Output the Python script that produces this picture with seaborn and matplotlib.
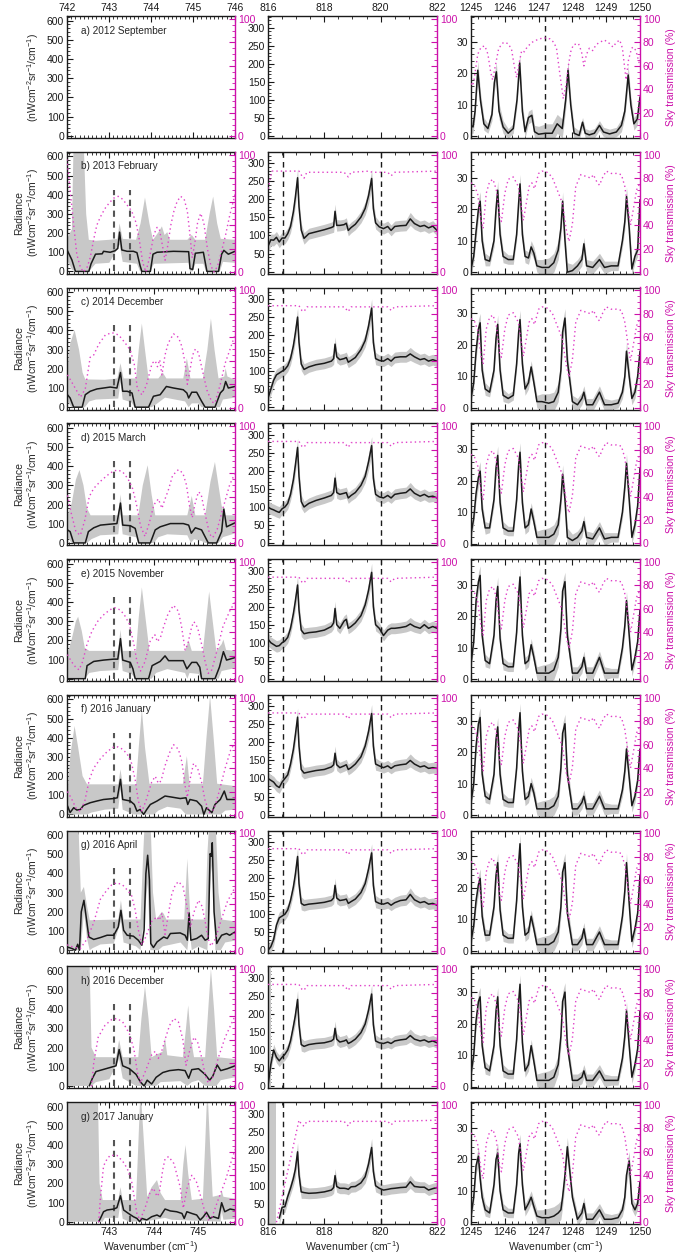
import numpy as np
import matplotlib
matplotlib.use("Agg")
import matplotlib.pyplot as plt
import seaborn as sns
from matplotlib.ticker import MultipleLocator, FuncFormatter

sns.set_theme(style="ticks")
plt.rcParams["font.family"] = ["Liberation Sans", "DejaVu Sans"]
plt.rcParams["mathtext.fontset"] = "custom"
plt.rcParams["mathtext.rm"] = "Liberation Sans"
plt.rcParams["mathtext.it"] = "Liberation Sans"

# ---------------- labels ----------------
ROW_LABELS = ["a) 2012 September", "b) 2013 February", "c) 2014 December", "d) 2015 March",
              "e) 2015 November", "f) 2016 January", "g) 2016 April", "h) 2016 December",
              "g) 2017 January"]
DASH_C1 = [743.1, 743.47]
DASH_C2 = [816.52, 820.0]
DASH_C3 = [1247.19]

# ---------------- column 1 (742-746 cm-1) : mean, upper band, lower band, transmission ----
C1B_MEAN = [(742.05,113),(742.16,60),(742.24,0),(742.54,0),(742.59,40),(742.69,90),(742.84,92),(742.87,105),(743.02,100),(743.13,108),(743.19,120),(743.23,205),(743.28,112),(743.4,105),(743.54,105),(743.62,98),(743.69,30),(743.73,0),(743.92,0),(743.98,90),(744.07,100),(744.44,105),(744.78,103),(744.81,15),(744.87,10),(744.93,95),(745.11,100),(745.15,50),(745.19,0),(745.45,0),(745.52,90),(745.57,110),(745.67,90),(745.82,105)]
C1B_HI = [(742.05,170),(742.16,220),(742.2,700),(742.42,700),(742.48,300),(742.54,165),(742.7,160),(743.0,165),(743.18,170),(743.23,250),(743.3,170),(743.6,165),(743.7,250),(743.8,385),(743.9,250),(743.98,165),(744.12,210),(744.18,235),(744.24,190),(744.3,205),(744.36,165),(744.75,165),(744.85,190),(744.93,165),(745.15,165),(745.25,300),(745.33,390),(745.42,250),(745.5,170),(745.82,165)]
C1B_LO = [(742.05,60),(742.16,10),(742.24,0),(742.54,0),(742.69,40),(743.0,45),(743.23,140),(743.3,50),(743.62,40),(743.69,0),(743.92,0),(744.0,40),(744.78,45),(744.81,0),(744.87,0),(744.93,40),(745.11,40),(745.17,0),(745.48,0),(745.55,50),(745.82,45)]
C1B_TR = [(742.05,96),(742.12,70),(742.2,40),(742.27,15),(742.35,4),(742.42,0),(742.5,4),(742.57,12),(742.65,28),(742.72,40),(742.8,47),(742.9,54),(743.0,59),(743.1,63),(743.2,64.5),(743.3,62),(743.4,57),(743.5,52),(743.6,42),(743.67,28),(743.75,8),(743.82,0),(743.9,12),(744.0,32),(744.07,38),(744.12,37),(744.18,25),(744.25,10),(744.3,20),(744.38,40),(744.45,52),(744.52,60),(744.6,64.5),(744.68,62),(744.75,52),(744.8,35),(744.86,12),(744.92,25),(744.98,42),(745.05,50),(745.12,42),(745.2,20),(745.28,5),(745.35,0),(745.43,5),(745.5,15),(745.6,30),(745.7,48),(745.82,66)]

C1C_MEAN = [(742.06,65),(742.12,48),(742.2,0),(742.39,0),(742.46,65),(742.57,83),(742.72,95),(742.87,100),(743.02,105),(743.17,100),(743.25,181),(743.3,83),(743.4,83),(743.51,74),(743.58,0),(743.88,0),(743.99,57),(744.14,65),(744.28,108),(744.44,100),(744.66,91),(744.74,74),(744.78,48),(744.85,78),(744.96,78),(745.07,31),(745.15,0),(745.37,0),(745.49,74),(745.56,91),(745.61,134),(745.67,100),(745.82,108)]
C1C_HI = [(742.06,200),(742.12,330),(742.22,402),(742.32,300),(742.4,180),(742.46,145),(742.9,143),(743.18,150),(743.25,229),(743.32,150),(743.6,150),(743.66,300),(743.73,436),(743.8,300),(743.88,150),(744.1,150),(744.2,180),(744.28,150),(744.66,150),(744.74,255),(744.82,150),(745.1,150),(745.2,300),(745.28,462),(745.36,300),(745.45,150),(745.58,160),(745.61,203),(745.65,160),(745.82,143)]
C1C_LO = [(742.06,30),(742.15,0),(742.45,0),(742.55,30),(742.7,40),(743.2,45),(743.25,130),(743.3,40),(743.5,25),(743.56,0),(743.95,0),(744.05,15),(744.25,50),(744.7,30),(744.78,0),(744.85,20),(745.0,20),(745.07,0),(745.48,0),(745.55,40),(745.82,50)]
C1C_TR = [(742.06,28),(742.2,19),(742.35,9),(742.46,16),(742.57,43),(742.65,45),(742.76,54),(742.91,62),(743.06,64),(743.21,62),(743.36,55),(743.47,49),(743.56,37),(743.63,16),(743.73,11),(743.83,19),(743.96,38),(744.03,40),(744.08,35),(744.13,41),(744.18,28),(744.25,45),(744.32,55),(744.44,63),(744.55,60),(744.63,52),(744.7,38),(744.75,20),(744.8,30),(744.87,45),(744.93,50),(745.0,47),(745.07,35),(745.19,15),(745.3,5),(745.37,4),(745.49,20),(745.6,38),(745.71,50),(745.82,62)]

C1D_MEAN = [(742.06,68),(742.12,59),(742.2,0),(742.46,0),(742.53,59),(742.65,79),(742.8,93),(743.02,98),(743.17,101),(743.25,208),(743.3,93),(743.47,90),(743.58,76),(743.66,0),(743.92,0),(744.03,68),(744.14,84),(744.37,101),(744.66,101),(744.78,93),(744.84,51),(744.93,79),(745.07,68),(745.22,0),(745.41,0),(745.52,59),(745.57,177),(745.63,84),(745.82,105)]
C1D_HI = [(742.06,144),(742.15,200),(742.25,330),(742.33,380),(742.42,300),(742.5,180),(742.58,144),(743.2,144),(743.25,253),(743.3,144),(743.65,144),(743.75,300),(743.86,405),(743.95,250),(744.03,144),(744.75,144),(744.85,245),(744.93,144),(745.15,144),(745.27,320),(745.37,422),(745.45,300),(745.52,194),(745.6,144),(745.82,144)]
C1D_LO = [(742.06,30),(742.15,0),(742.5,0),(742.6,20),(742.8,40),(743.2,45),(743.25,150),(743.3,45),(743.6,30),(743.66,0),(744.0,0),(744.1,30),(744.3,45),(744.75,40),(744.83,0),(744.9,20),(745.07,10),(745.15,0),(745.45,0),(745.55,30),(745.82,50)]
C1D_TR = [(742.06,41),(742.15,25),(742.25,10),(742.35,7),(742.45,20),(742.55,40),(742.65,47),(742.8,53),(742.95,58),(743.1,62),(743.2,62.5),(743.3,61),(743.42,55),(743.52,47),(743.6,35),(743.7,15),(743.8,6),(743.9,18),(744.0,33),(744.1,38),(744.18,30),(744.25,38),(744.32,45),(744.42,58),(744.55,63),(744.65,60),(744.73,50),(744.8,32),(744.86,22),(744.93,35),(745.0,44),(745.06,42),(745.15,25),(745.25,8),(745.32,5),(745.42,12),(745.55,30),(745.7,50),(745.82,60)]

C1E_MEAN = [(742.06,0),(742.46,0),(742.5,68),(742.65,90),(742.87,97),(743.1,102),(743.19,102),(743.25,209),(743.3,97),(743.47,85),(743.53,51),(743.58,0),(743.88,0),(743.96,68),(744.14,90),(744.25,119),(744.33,94),(744.66,94),(744.74,51),(744.85,85),(744.96,85),(745.03,60),(745.07,0),(745.37,0),(745.47,60),(745.56,141),(745.63,97),(745.82,110)]
C1E_HI = [(742.06,128),(742.15,200),(742.25,300),(742.3,323),(742.38,250),(742.45,160),(742.55,145),(743.2,145),(743.25,255),(743.3,145),(743.6,145),(743.66,320),(743.73,476),(743.82,300),(743.9,145),(744.7,145),(744.78,200),(744.85,145),(745.1,145),(745.18,320),(745.24,454),(745.32,300),(745.4,145),(745.52,180),(745.56,204),(745.62,150),(745.82,145)]
C1E_LO = [(742.06,0),(742.45,0),(742.55,30),(742.8,40),(743.2,45),(743.25,150),(743.3,40),(743.5,25),(743.58,0),(743.95,0),(744.05,30),(744.3,50),(744.7,30),(744.75,0),(744.8,30),(745.0,25),(745.07,0),(745.45,0),(745.52,40),(745.82,55)]
C1E_TR = [(742.06,21),(742.15,15),(742.25,10),(742.32,8),(742.4,15),(742.5,30),(742.61,41),(742.75,50),(742.9,56),(743.05,60),(743.12,61),(743.25,59),(743.35,54),(743.45,47),(743.55,30),(743.62,15),(743.7,7),(743.8,15),(743.92,33),(744.02,38),(744.08,32),(744.15,36),(744.22,45),(744.32,56),(744.44,63),(744.55,58),(744.62,45),(744.7,25),(744.76,30),(744.85,45),(744.9,49),(744.98,44),(745.07,30),(745.15,15),(745.22,5),(745.3,8),(745.42,25),(745.55,45),(745.7,58),(745.82,66)]

C1F_MEAN = [(742.06,45),(742.12,10),(742.2,35),(742.27,23),(742.35,26),(742.42,47),(742.57,61),(742.72,70),(742.87,78),(743.1,83),(743.18,87),(743.25,183),(743.3,78),(743.47,70),(743.56,52),(743.62,17),(743.69,26),(743.77,0),(743.84,26),(743.92,52),(744.07,70),(744.25,96),(744.36,92),(744.59,83),(744.72,87),(744.76,52),(744.81,78),(744.96,70),(745.07,43),(745.12,0),(745.18,35),(745.3,9),(745.37,52),(745.49,78),(745.58,122),(745.64,78),(745.82,78)]
C1F_HI = [(742.06,113),(742.12,300),(742.22,461),(742.3,350),(742.4,200),(742.5,157),(743.2,157),(743.25,235),(743.3,157),(743.6,157),(743.66,350),(743.73,548),(743.8,350),(743.9,160),(744.65,160),(744.74,304),(744.8,160),(745.1,160),(745.18,400),(745.26,617),(745.34,400),(745.42,160),(745.82,148)]
C1F_LO = [(742.06,0),(742.5,0),(742.6,10),(742.9,25),(743.2,30),(743.25,130),(743.3,25),(743.55,0),(744.0,0),(744.1,20),(744.3,40),(744.6,30),(744.72,0),(745.5,0),(745.6,20),(745.82,25)]
C1F_TR = [(742.06,20),(742.15,14),(742.25,6),(742.35,3),(742.45,12),(742.55,30),(742.65,40),(742.8,48),(742.95,54),(743.1,58),(743.2,58),(743.3,56),(743.4,52),(743.5,44),(743.58,30),(743.65,12),(743.73,3),(743.82,12),(743.95,28),(744.03,33),(744.1,27),(744.16,29),(744.25,42),(744.35,53),(744.44,60),(744.55,56),(744.63,45),(744.7,25),(744.75,15),(744.82,32),(744.89,44),(744.98,40),(745.07,28),(745.15,12),(745.25,2),(745.35,5),(745.45,18),(745.6,40),(745.72,55),(745.82,62)]

C1G_MEAN = [(742.05,17),(742.16,9),(742.24,0),(742.29,31),(742.33,0),(742.37,200),(742.43,260),(742.49,156),(742.54,69),(742.65,56),(742.8,66),(742.95,78),(743.1,78),(743.2,121),(743.26,208),(743.32,104),(743.4,78),(743.54,73),(743.65,52),(743.73,26),(743.78,104),(743.82,399),(743.86,495),(743.9,365),(743.93,35),(743.99,14),(744.07,43),(744.22,69),(744.3,61),(744.37,87),(744.59,90),(744.7,78),(744.75,52),(744.79,194),(744.83,52),(744.96,61),(745.07,78),(745.15,52),(745.22,60),(745.26,503),(745.29,490),(745.31,560),(745.35,200),(745.41,35),(745.45,52),(745.52,78),(745.63,87),(745.7,78),(745.82,95)]
C1G_HI = [(742.05,700),(742.3,700),(742.36,300),(742.43,330),(742.5,230),(742.56,156),(743.2,160),(743.26,260),(743.32,160),(743.7,160),(743.76,500),(743.8,700),(743.92,700),(743.98,300),(744.05,160),(744.18,200),(744.22,190),(744.28,160),(744.68,160),(744.75,477),(744.82,160),(745.15,160),(745.2,500),(745.25,700),(745.38,700),(745.45,300),(745.52,160),(745.82,150)]
C1G_LO = [(742.05,0),(742.36,0),(742.43,200),(742.5,60),(742.56,0),(742.62,10),(742.8,30),(743.1,35),(743.26,150),(743.32,40),(743.6,20),(743.7,0),(743.82,250),(743.86,350),(743.92,0),(744.1,0),(744.2,20),(744.6,40),(744.75,0),(744.8,100),(744.85,0),(745.0,20),(745.2,0),(745.28,400),(745.31,450),(745.38,0),(745.5,0),(745.6,40),(745.82,50)]
C1G_TR = [(742.05,5),(742.2,3),(742.35,2),(742.5,10),(742.65,24),(742.8,44),(742.95,52),(743.05,56),(743.17,58),(743.3,56),(743.42,51),(743.5,47),(743.58,35),(743.65,18),(743.73,5),(743.82,12),(743.95,25),(744.07,29),(744.12,26),(744.18,32),(744.25,14),(744.32,30),(744.4,48),(744.48,56),(744.55,59),(744.65,55),(744.73,40),(744.82,20),(744.9,33),(745.0,43),(745.08,38),(745.15,25),(745.22,10),(745.28,4),(745.38,10),(745.5,25),(745.65,42),(745.82,54)]

C1H_MEAN = [(742.55,0),(742.62,40),(742.7,75),(742.85,85),(743.0,95),(743.15,105),(743.22,190),(743.3,105),(743.45,90),(743.6,60),(743.7,20),(743.78,0),(743.85,30),(743.95,10),(744.05,45),(744.2,70),(744.35,80),(744.55,85),(744.7,80),(744.78,40),(744.85,85),(745.0,90),(745.15,60),(745.25,30),(745.32,50),(745.42,110),(745.5,80),(745.65,90),(745.82,105)]
C1H_HI = [(742.05,700),(742.55,700),(742.6,200),(742.7,150),(743.15,150),(743.22,240),(743.3,150),(743.65,150),(743.72,350),(743.8,520),(743.88,350),(743.95,150),(744.2,180),(744.25,250),(744.3,160),(744.65,150),(744.72,300),(744.77,420),(744.83,250),(744.9,150),(745.15,150),(745.22,400),(745.28,610),(745.35,400),(745.42,150),(745.82,140)]
C1H_LO = [(742.05,0),(742.6,0),(742.7,20),(743.0,35),(743.22,140),(743.3,40),(743.6,0),(744.05,0),(744.15,20),(744.6,25),(744.75,0),(744.85,20),(745.0,30),(745.15,0),(745.4,0),(745.5,30),(745.82,45)]
C1H_TR = [(742.6,0),(742.65,20),(742.75,42),(742.9,52),(743.05,57),(743.17,58),(743.3,55),(743.45,45),(743.55,32),(743.63,12),(743.7,3),(743.82,14),(743.95,27),(744.03,30),(744.1,24),(744.16,28),(744.25,40),(744.35,52),(744.45,58),(744.55,55),(744.65,40),(744.72,18),(744.8,30),(744.9,42),(744.98,38),(745.07,25),(745.15,10),(745.22,3),(745.32,8),(745.45,25),(745.6,42),(745.72,52),(745.82,60)]

C1I_MEAN = [(742.76,0),(742.8,17),(742.87,52),(742.95,61),(743.1,66),(743.17,73),(743.25,135),(743.32,61),(743.43,43),(743.54,26),(743.62,17),(743.68,0),(743.73,17),(743.84,9),(743.95,26),(744.07,35),(744.14,26),(744.25,66),(744.37,56),(744.51,52),(744.63,43),(744.68,17),(744.74,52),(744.85,43),(744.96,35),(745.04,9),(745.11,26),(745.18,49),(745.26,17),(745.33,26),(745.45,17),(745.52,99),(745.59,52),(745.71,66),(745.82,61)]
C1I_HI = [(742.05,700),(742.74,700),(742.78,200),(742.85,113),(743.2,113),(743.25,180),(743.3,113),(743.6,113),(743.65,400),(743.7,700),(743.78,400),(743.85,130),(743.95,180),(744.07,217),(744.15,150),(744.25,113),(744.6,113),(744.66,300),(744.71,400),(744.77,250),(744.85,113),(745.1,120),(745.15,400),(745.2,700),(745.26,400),(745.32,130),(745.5,140),(745.52,165),(745.56,130),(745.82,120)]
C1I_LO = [(742.05,0),(742.85,0),(742.9,20),(743.2,20),(743.25,100),(743.3,15),(743.45,0),(743.9,5),(744.25,20),(744.4,10),(745.5,0),(745.52,60),(745.56,10),(745.82,15)]
C1I_TR = [(742.76,0),(742.8,21),(742.87,48),(742.95,54),(743.02,57),(743.17,57),(743.3,52),(743.4,46),(743.5,35),(743.62,7),(743.69,2),(743.8,12),(743.92,26),(743.99,29),(744.07,22),(744.12,25),(744.2,45),(744.25,54),(744.33,56),(744.45,50),(744.59,30),(744.66,12),(744.75,30),(744.85,40),(744.95,35),(745.05,22),(745.15,8),(745.22,2),(745.3,4),(745.45,20),(745.6,35),(745.72,50),(745.82,62)]

# ---------------- column 2 (816-822 cm-1) ----------------
K2 = [816.0, 816.1, 816.2, 816.3, 816.4, 816.5, 816.6, 816.7, 816.8, 816.9, 816.97, 817.05, 817.1, 817.18,
      817.28, 817.45, 817.7, 818.0, 818.25, 818.33, 818.38, 818.44, 818.55, 818.7, 818.78, 818.85, 818.95,
      819.1, 819.3, 819.45, 819.57, 819.68, 819.74, 819.82, 819.95, 820.1, 820.25, 820.37, 820.5, 820.7,
      820.9, 821.05, 821.2, 821.4, 821.55, 821.7, 821.85, 822.0]
ERR2 = [18,16,16,16,16,16,16,16,17,19,22,25,22,18,16,15,15,15,15,16,20,16,15,15,15,15,15,15,16,18,22,25,22,17,
        15,15,15,15,15,15,15,18,16,15,15,15,15,15]
C2B = [70,88,87,95,82,93,93,105,125,165,205,260,180,115,92,105,110,116,122,125,167,128,128,130,134,114,122,131,151,175,210,258,175,135,124,119,125,114,125,127,128,146,133,125,128,121,126,114]
C2C = [25,50,75,90,95,100,105,115,135,170,205,250,180,120,105,112,118,122,128,135,175,140,132,135,138,125,130,138,160,185,225,275,180,135,130,128,135,128,138,140,140,148,140,132,135,128,132,128]
C2D = [100,95,92,88,85,95,100,110,135,175,215,265,185,115,100,110,118,125,132,140,180,140,135,138,140,125,132,140,160,185,225,270,180,135,128,125,132,125,135,138,140,150,138,130,135,128,130,125]
C2E = [110,100,95,90,92,100,105,115,140,180,215,260,190,135,125,128,130,135,145,155,195,150,140,160,165,140,145,155,175,205,245,295,200,150,140,120,135,140,140,142,145,152,145,140,150,140,145,140]
C2F = [100,95,90,80,75,90,100,110,140,180,220,270,190,125,115,118,122,125,132,138,170,138,130,135,138,125,130,140,160,190,230,280,190,140,135,130,135,128,135,138,140,150,140,132,135,128,130,128]
C2G = [0,10,30,70,90,95,100,112,138,175,210,260,185,130,125,128,130,133,138,145,180,145,138,140,142,130,135,142,160,185,225,270,180,135,130,128,132,125,132,138,140,155,140,132,135,128,130,125]
C2H = [0,60,100,80,70,80,88,100,125,165,195,240,170,115,110,115,118,120,125,130,160,130,122,125,128,118,122,130,148,172,210,255,170,125,120,118,122,118,125,128,130,140,130,125,128,122,125,120]
C2I = [np.nan,np.nan,np.nan,np.nan,10,40,42,70,93,120,145,194,130,83,81,79,80,83,88,95,128,98,93,93,92,90,97,98,108,125,160,206,140,100,93,88,90,92,93,95,96,111,98,96,96,88,92,95]
C2_FULLGRAY = [None, None, None, None, None, None, (816.0, 816.05), (816.0, 816.1), (816.0, 816.3)]
C2B_TR = [(816.0,71),(816.05,76),(816.1,82),(816.15,86),(817.1,86),(817.2,82),(817.28,80),(817.38,85),(818.7,85),(818.78,83),(818.85,81),(818.95,85),(819.6,86),(819.7,85),(820.25,85),(820.37,82),(820.5,85),(822.0,86)]
C2_TR = [(816.0,87),(817.1,87),(817.2,83),(817.28,82),(817.38,86),(818.7,86),(818.85,82),(818.95,86),(820.25,86),(820.37,83),(820.5,86),(822.0,87)]

# ---------------- column 3 (1245-1250 cm-1) ----------------
K3A = [1245.0, 1245.06, 1245.12, 1245.2, 1245.28, 1245.38, 1245.5, 1245.62, 1245.69, 1245.75, 1245.83, 1245.95,
       1246.1, 1246.25, 1246.36, 1246.44, 1246.52, 1246.6, 1246.7, 1246.8, 1246.88, 1247.0, 1247.2, 1247.4,
       1247.55, 1247.7, 1247.8, 1247.87, 1247.95, 1248.05, 1248.2, 1248.3, 1248.38, 1248.5, 1248.65, 1248.8,
       1248.92, 1249.1, 1249.3, 1249.45, 1249.55, 1249.65, 1249.73, 1249.82, 1249.92, 1250.0]
C3A = [3.5,3,8,21,11.5,4,2.5,7,17,20.5,8,3,1,2.5,11.5,23.3,8,1.5,6,6.7,1.5,0.7,1,1,4,2.5,11.5,21,10,1,0.3,4.5,1,0.5,1,3.5,1.4,0.8,1.4,3.5,8,19.5,10,4,5.5,12.5]
ERR3A = [2.5,2,2,3,2.5,2,1.5,2,2.5,3,2.5,2,1.5,1.5,2,3,2.5,2,2,2,2,2.5,3,3,3,3,3,3,2.5,2,1.5,1.5,1.5,1.5,1.5,1.5,1.5,1.5,1.5,2,2,3,2.5,2,2,3]
K3 = [1245.0, 1245.08, 1245.15, 1245.22, 1245.27, 1245.33, 1245.42, 1245.55, 1245.68, 1245.74, 1245.79, 1245.86,
      1245.95, 1246.1, 1246.25, 1246.35, 1246.41, 1246.45, 1246.52, 1246.6, 1246.7, 1246.78, 1246.86, 1246.95,
      1247.1, 1247.3, 1247.45, 1247.58, 1247.66, 1247.71, 1247.78, 1247.85, 1248.0, 1248.15, 1248.28, 1248.34,
      1248.42, 1248.6, 1248.8, 1248.95, 1249.15, 1249.35, 1249.48, 1249.55, 1249.6, 1249.68, 1249.76, 1249.85,
      1249.93, 1250.0]
ERR3 = [2,2,2.5,3,3,2.5,2,1.5,2,3,3,2.5,2,1.5,1.5,2,3,3,2.5,2,2,2,2,2,2.5,3,3,3,3,3,3,3,2,2,2,2,2,2,2,2,1.5,1.5,2,2.5,3,3,2,2,2,2.5]
C3B = [1,5,13,20,22.5,10,4,3.5,10,20,26,12,5,4,4,12,22,28,12,5,4.5,8,6,2,1.5,1.5,3,7,14,22.5,10,0,0.5,2,4,9,2,1.5,4,1.5,2,2,10,16,24,14,1,5,7,23]
C3C = [3,8,18,25,27,12,6,5,12,22,26.5,12,4,3,4,14,24,28,14,6,8,13,8,2,2,1.5,2,5,12,24,28.5,15,2,1,3,5,1,1,5,1,1,1.5,5,10,18,10,3,5,10,18]
C3D = [3,8,16,21,23,11,5,5,14,24,28,13,5,4,4,14,25,29,13,5,6,11,7,2,2,2,3,6,14,22,14,2,1,2,4,7,2,1.5,5,1.5,2,2,10,18,25.5,14,2,6,12,24]
C3E = [5,12,25,31,33,14,6,5,14,25,29.5,13,5,4,4,15,27,32.5,14,5,6,11,7,2,2,2,3,7,16,28,31,14,2,2,4,7,2,2,7,2,2,2,10,17,25,14,3,7,12,22]
C3F = [4,10,22,29,31,13,6,5,13,24,28,13,5,4,4,15,27,32.5,14,5,6,10,7,2,2,2,3,6,15,26,29,13,2,2,4,6,2,2,6,2,2,2,8,14,21,12,3,6,11,21]
C3G = [3,8,16,21,23,11,5,5,14,24,28,13,5,4,4,16,28,34,14,5,6,11,7,2,2,2,3,6,14,25,28,12,2,2,4,7,2,2,6,2,2,2,11,19,28,15,3,7,12,24]
C3H = [4,10,21,27,28.5,13,6,5,13,24,28.5,13,5,4,4,15,27,32.5,14,5,7,13,8,2,2,2,3,7,16,27,30,13,2,2,3,5,2,2,5,2,2,2,9,16,24,13,3,7,12,24]
C3I = [2,8,18,21,14,8,4,3,12,20,22,10,4,3,3,12,22,25,12,4,6,8,5,2,1.5,1.5,2,3,4,8,15,24,8,1,3,6,1,1,4,1,1,1.5,4,8,15,19.5,6,4,6,13]
C3A_TR = [(1245.0,45),(1245.05,43),(1245.1,50),(1245.2,70),(1245.3,76),(1245.41,77),(1245.5,70),(1245.58,55),(1245.64,48),(1245.72,60),(1245.82,75),(1245.96,80),(1246.1,79),(1246.2,74),(1246.28,60),(1246.35,50),(1246.42,62),(1246.5,73),(1246.58,72),(1246.66,76),(1246.8,80),(1246.94,82),(1247.14,84),(1247.34,83),(1247.45,80),(1247.53,75),(1247.62,55),(1247.73,32),(1247.82,45),(1247.88,60),(1247.95,72),(1248.03,78),(1248.18,79),(1248.27,72),(1248.34,60),(1248.42,70),(1248.5,75),(1248.6,73),(1248.7,78),(1248.8,80),(1248.95,82),(1249.1,79),(1249.2,76),(1249.3,80),(1249.4,82),(1249.48,75),(1249.54,60),(1249.59,48),(1249.66,65),(1249.75,75),(1249.8,76),(1249.88,73),(1249.95,65),(1250.0,60)]
C3_TR = [(1245.0,76),(1245.1,74),(1245.2,66),(1245.3,44),(1245.36,37),(1245.45,67),(1245.55,77),(1245.65,79),(1245.75,70),(1245.85,47),(1245.9,43),(1246.0,67),(1246.1,79),(1246.25,81),(1246.4,73),(1246.55,44),(1246.62,56),(1246.72,73),(1246.8,76),(1246.88,71),(1247.0,84),(1247.1,86),(1247.25,85),(1247.4,81),(1247.55,70),(1247.7,59),(1247.82,36),(1247.9,26),(1248.0,41),(1248.1,73),(1248.25,83),(1248.45,81),(1248.55,80),(1248.62,83),(1248.72,77),(1248.8,74),(1248.9,81),(1249.0,86),(1249.15,84),(1249.3,84),(1249.45,83),(1249.55,73),(1249.65,53),(1249.72,40),(1249.8,53),(1249.9,70),(1250.0,76)]

# ---------------- assemble per-row lists ----------------
C1_MEAN = [None, C1B_MEAN, C1C_MEAN, C1D_MEAN, C1E_MEAN, C1F_MEAN, C1G_MEAN, C1H_MEAN, C1I_MEAN]
C1_HI = [None, C1B_HI, C1C_HI, C1D_HI, C1E_HI, C1F_HI, C1G_HI, C1H_HI, C1I_HI]
C1_LO = [None, C1B_LO, C1C_LO, C1D_LO, C1E_LO, C1F_LO, C1G_LO, C1H_LO, C1I_LO]
C1_TR = [None, C1B_TR, C1C_TR, C1D_TR, C1E_TR, C1F_TR, C1G_TR, C1H_TR, C1I_TR]
C2_VALS = [None, C2B, C2C, C2D, C2E, C2F, C2G, C2H, C2I]
C3_VALS = [C3A, C3B, C3C, C3D, C3E, C3F, C3G, C3H, C3I]

MAG = "#cc10aa"
DOT = "#e040c8"
GRAY = "#c8c8c8"

fig = plt.figure(figsize=(6.88, 12.57), dpi=100)
W, H = 688.0, 1257.0
COL_L = [67, 268, 471]
COL_W = [168, 169, 169]
ROW_T0, ROW_P, ROW_H = 16, 135.75, 122

XLIM = [(742.05, 745.82), (816.0, 822.0), (1245.0, 1250.0)]
YLIM = [(-12, 624), (-6, 332), (-0.5, 38.2)]
YMAJ = [100, 50, 10]
YMIN = [20, 10, 2]
XMAJ = [1, 2, 1]
XMIN = [0.1, 0.5, 0.2]
FS = 7.5


def xy(pts):
    a = np.array(pts, dtype=float)
    return a[:, 0], a[:, 1]


def draw_line(ax, x, y, **kw):
    d = {"x": x, "y": y}
    sns.lineplot(x="x", y="y", data=d, ax=ax, sort=False, estimator=None, legend=False, **kw)


def band_poly(ax, hi, lo):
    hx, hy = xy(hi)
    lx, ly = xy(lo)
    ax.fill(np.concatenate([hx, lx[::-1]]), np.concatenate([hy, ly[::-1]]), color=GRAY, lw=0, zorder=1)


for r in range(9):
    top = ROW_T0 + r * ROW_P
    for c in range(3):
        rect = [COL_L[c] / W, 1 - (top + ROW_H) / H, COL_W[c] / W, ROW_H / H]
        ax = fig.add_axes(rect)
        ax2 = ax.twinx()
        xl = XLIM[c] if not (r == 0 and c == 0) else (742.0, 746.0)
        ax.set_xlim(*xl)
        ax.set_ylim(*YLIM[c])
        ax2.set_ylim(-1.5, 102.5)

        # ---- data ----
        if c == 0 and r > 0:
            band_poly(ax, C1_HI[r], C1_LO[r])
            for xv in DASH_C1:
                ax.axvline(xv, ymin=0.02, ymax=0.69, color="#555555", lw=1.5, ls=(0, (3, 2.2)), zorder=2)
            mx, my = xy(C1_MEAN[r])
            draw_line(ax, mx, my, color="k", lw=1.1, zorder=3)
            tx, ty = xy(C1_TR[r])
            draw_line(ax2, tx, ty, color=DOT, lw=1.0, ls=(0, (1, 2.2)))
        elif c == 1 and r > 0:
            vals = np.array(C2_VALS[r], dtype=float)
            err = np.array(ERR2, dtype=float)
            kx = np.array(K2)
            ax.fill_between(kx, vals - err, vals + err, color=GRAY, lw=0, zorder=1)
            if C2_FULLGRAY[r] is not None:
                ax.axvspan(*C2_FULLGRAY[r], color=GRAY, lw=0, zorder=1)
            for xv in DASH_C2:
                ax.axvline(xv, color="k", lw=1.0, ls=(0, (4, 3)), zorder=2)
            ok = ~np.isnan(vals)
            draw_line(ax, kx[ok], vals[ok], color="k", lw=1.1, zorder=3)
            tx, ty = xy(C2B_TR if r == 1 else C2_TR)
            if r == 8:
                keep = tx >= 816.3
                tx, ty = np.concatenate([[816.3], tx[keep]]), np.concatenate([[0], ty[keep]])
            draw_line(ax2, tx, ty, color=DOT, lw=1.0, ls=(0, (1, 2.2)))
        elif c == 2:
            kx = np.array(K3A if r == 0 else K3)
            vals = np.array(C3_VALS[r], dtype=float)
            err = np.array(ERR3A if r == 0 else ERR3, dtype=float)
            ax.fill_between(kx, vals - err, vals + err, color=GRAY, lw=0, zorder=1)
            for xv in DASH_C3:
                ax.axvline(xv, color="k", lw=1.0, ls=(0, (4, 3)), zorder=2)
            draw_line(ax, kx, vals, color="k", lw=1.1, zorder=3)
            tx, ty = xy(C3A_TR if r == 0 else C3_TR)
            draw_line(ax2, tx, ty, color=DOT, lw=1.0, ls=(0, (1, 2.2)))

        # ---- axes styling ----
        ax.set_xlabel("")
        ax.set_ylabel("")
        ax2.set_ylabel("")
        for s in ["top", "bottom", "left"]:
            ax.spines[s].set_color("k")
            ax.spines[s].set_linewidth(1.0)
        ax.spines["right"].set_visible(False)
        for s in ["top", "bottom", "left"]:
            ax2.spines[s].set_visible(False)
        ax2.spines["right"].set_color(MAG)
        ax2.spines["right"].set_linewidth(1.0)

        ax.xaxis.set_major_locator(MultipleLocator(XMAJ[c]))
        ax.xaxis.set_minor_locator(MultipleLocator(XMIN[c]))
        ax.yaxis.set_major_locator(MultipleLocator(YMAJ[c]))
        ax.yaxis.set_minor_locator(MultipleLocator(YMIN[c]))
        ax.tick_params(axis="both", which="both", direction="in", top=True, bottom=True, left=True,
                       right=False, colors="k", labelsize=FS, pad=2)
        ax.tick_params(which="major", length=4, width=0.8)
        ax.tick_params(which="minor", length=2, width=0.6)
        ax.tick_params(axis="x", labelbottom=(r == 8), labeltop=(r == 0))
        ax.yaxis.set_major_formatter(FuncFormatter(lambda v, p: "%d" % round(v)))
        ax.xaxis.set_major_formatter(FuncFormatter(lambda v, p: "%d" % round(v)))

        ax2.yaxis.set_major_locator(MultipleLocator(20))
        ax2.yaxis.set_minor_locator(MultipleLocator(5))
        ax2.tick_params(axis="y", which="both", direction="in", colors=MAG, labelsize=FS, pad=2)
        ax2.tick_params(which="major", length=4, width=0.8)
        ax2.tick_params(which="minor", length=2, width=0.6)
        if c < 2:
            ax2.yaxis.set_major_formatter(FuncFormatter(lambda v, p: "%d" % round(v) if round(v) in (0, 100) else ""))
        else:
            ax2.yaxis.set_major_formatter(FuncFormatter(lambda v, p: "%d" % round(v)))
            ax2.set_ylabel("Sky transmission (%)", color=MAG, fontsize=FS, labelpad=4)

        if c == 0:
            if r == 0:
                ax.set_ylabel("(nWcm$^{-2}$sr$^{-1}$/cm$^{-1}$)", fontsize=FS, labelpad=4)
            else:
                ax.set_ylabel("Radiance\n(nWcm$^{-2}$sr$^{-1}$/cm$^{-1}$)", fontsize=FS, labelpad=4,
                              linespacing=1.1)
            ax.text(0.085, 0.88, ROW_LABELS[r], transform=ax.transAxes, fontsize=FS - 0.3,
                    ha="left", va="center", zorder=5)
        if r == 8:
            ax.set_xlabel("Wavenumber (cm$^{-1}$)", fontsize=FS, labelpad=2)

fig.savefig("out.png", dpi=100)
